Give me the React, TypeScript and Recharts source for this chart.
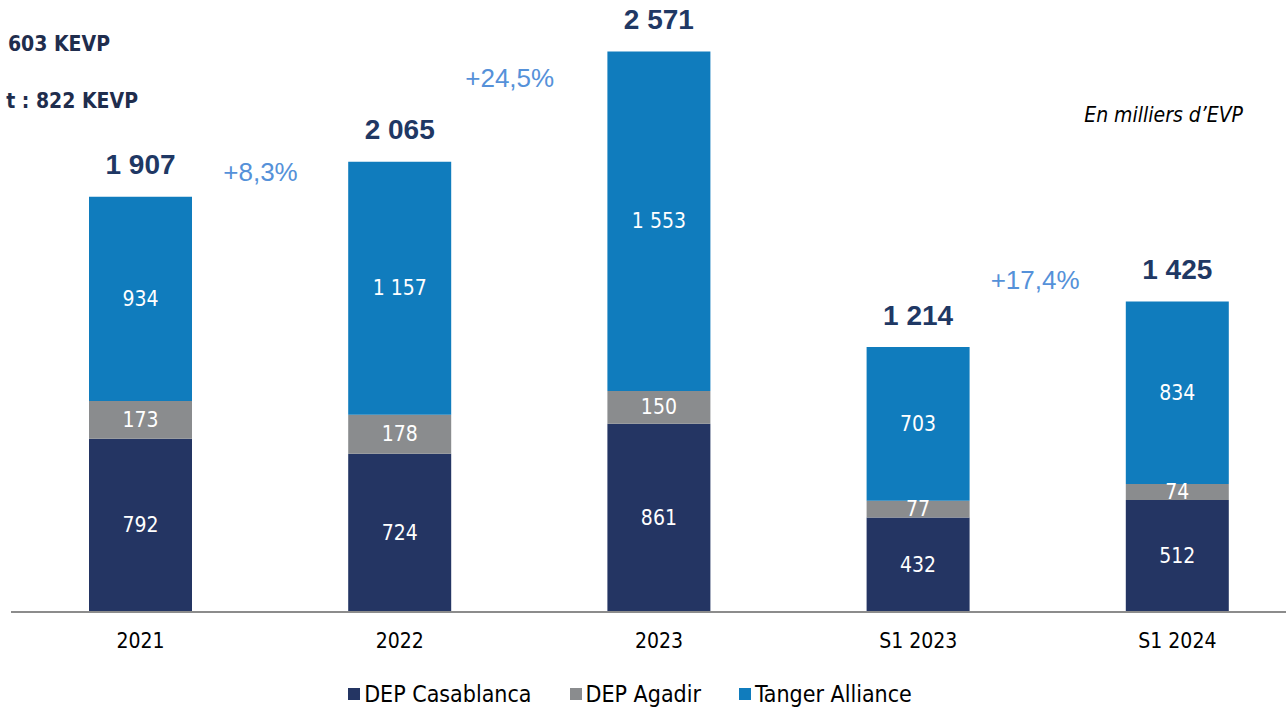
import React from 'react';
import { BarChart, Bar, XAxis, YAxis, LabelList, Legend, Customized } from 'recharts';

const categories = ['2021', '2022', '2023', 'S1 2023', 'S1 2024'];
const casablanca = [792, 724, 861, 432, 512];
const agadir = [173, 178, 150, 77, 74];
const tanger = [934, 1157, 1553, 703, 834];
const totals = [1907, 2065, 2571, 1214, 1425];
// growth shown between category i and i+1
const growth = ['+8,3%', '+24,5%', '', '+17,4%', ''];

const seriesNames = ['DEP Casablanca', 'DEP Agadir', 'Tanger Alliance'];
const headerLines = ['603 KEVP', 't : 822 KEVP'];
const unitNote = 'En milliers d\u2019EVP';

const data = categories.map((c, i) => ({
  category: c,
  casablanca: casablanca[i],
  agadir: agadir[i],
  tanger: tanger[i],
}));

const NAVY = '#243563';
const GREY = '#8A8C8E';
const BLUE = '#107CBD';
const TOTAL_COLOR = '#1F3864';
const GROWTH_COLOR = '#5591D9';
const COND = "'DejaVu Sans Condensed', 'DejaVu Sans', sans-serif";
const ARIAL = "'Liberation Sans', Arial, sans-serif";

const GROWTH_DX = [120, 110, 0, 117, 0];
const GROWTH_DY = [-25, -84, 0, -67, 0];

const fmt = (v: number) => String(v).replace(/\B(?=(\d{3})+(?!\d))/g, ' ');

const InnerLabel = (props: any) => {
  const { x, y, width, height, value } = props;
  return (
    <text
      x={x + width / 2}
      y={y + height / 2}
      textAnchor="middle"
      dominantBaseline="central"
      fill="#ffffff"
      fontSize={21}
      fontFamily={COND}
    >
      {fmt(value)}
    </text>
  );
};

const TopLabel = (props: any) => {
  const { x, y, width, index } = props;
  const cx = x + width / 2;
  const g = growth[index];
  return (
    <g>
      <text
        x={cx}
        y={y - 32}
        textAnchor="middle"
        dominantBaseline="central"
        fill={TOTAL_COLOR}
        fontSize={28}
        fontWeight="bold"
        fontFamily={ARIAL}
      >
        {fmt(totals[index])}
      </text>
      {g ? (
        <text
          x={cx + GROWTH_DX[index]}
          y={y + GROWTH_DY[index]}
          textAnchor="middle"
          dominantBaseline="central"
          fill={GROWTH_COLOR}
          fontSize={26}
          fontFamily={ARIAL}
        >
          {g}
        </text>
      ) : null}
    </g>
  );
};

const Tick = (props: any) => {
  const { x, y, payload } = props;
  return (
    <text
      x={x}
      y={y + 29}
      textAnchor="middle"
      dominantBaseline="central"
      fill="#000000"
      fontSize={21}
      fontFamily={COND}
    >
      {payload.value}
    </text>
  );
};

const Extras = () => (
  <g>
    <text x={110} y={44} textAnchor="end" dominantBaseline="central" fill="#1F2D4D" fontSize={21} fontWeight="bold" fontFamily={COND}>
      {headerLines[0]}
    </text>
    <text x={138} y={101} textAnchor="end" dominantBaseline="central" fill="#1F2D4D" fontSize={21} fontWeight="bold" fontFamily={COND}>
      {headerLines[1]}
    </text>
    <text x={1243} y={115} textAnchor="end" dominantBaseline="central" fill="#000000" fontSize={21} fontStyle="italic" fontFamily={COND}>
      {unitNote}
    </text>
  </g>
);

const colors = [NAVY, GREY, BLUE];

const LegendContent = () => (
  <div
    style={{
      display: 'flex',
      justifyContent: 'center',
      alignItems: 'center',
      height: 40,
      paddingTop: 8,
      boxSizing: 'border-box',
      fontFamily: COND,
      fontSize: 23,
      color: '#000',
    }}
  >
    {seriesNames.map((n, i) => (
      <div key={n} style={{ display: 'flex', alignItems: 'center', marginLeft: i === 0 ? 0 : 38 }}>
        <span style={{ display: 'inline-block', width: 12, height: 12, background: colors[i], marginRight: 4 }} />
        <span>{n}</span>
      </div>
    ))}
  </div>
);

export default function App() {
  return (
    <div style={{ position: 'absolute', left: 0, top: 0, width: 1286, height: 710, overflow: 'hidden', background: '#fff' }}>
      <BarChart width={1307} height={710} data={data} margin={{ top: 2, right: 0, bottom: 0, left: 11 }} barSize={103}>
        <XAxis
          dataKey="category"
          axisLine={{ stroke: '#8C8C8C', strokeWidth: 2 }}
          tickLine={false}
          tickSize={0}
          tickMargin={0}
          height={58}
          tick={<Tick />}
          interval={0}
        />
        <YAxis hide domain={[0, 2790]} />
        <Legend content={<LegendContent />} wrapperStyle={{ left: 0, width: 1260, bottom: 0, height: 40 }} />
        <Bar dataKey="casablanca" name={seriesNames[0]} stackId="a" fill={NAVY} isAnimationActive={false}>
          <LabelList dataKey="casablanca" content={<InnerLabel />} />
        </Bar>
        <Bar dataKey="agadir" name={seriesNames[1]} stackId="a" fill={GREY} isAnimationActive={false}>
          <LabelList dataKey="agadir" content={<InnerLabel />} />
        </Bar>
        <Bar dataKey="tanger" name={seriesNames[2]} stackId="a" fill={BLUE} isAnimationActive={false}>
          <LabelList dataKey="tanger" content={<InnerLabel />} />
          <LabelList dataKey="tanger" content={<TopLabel />} />
        </Bar>
        <Customized component={<Extras />} />
      </BarChart>
    </div>
  );
}
